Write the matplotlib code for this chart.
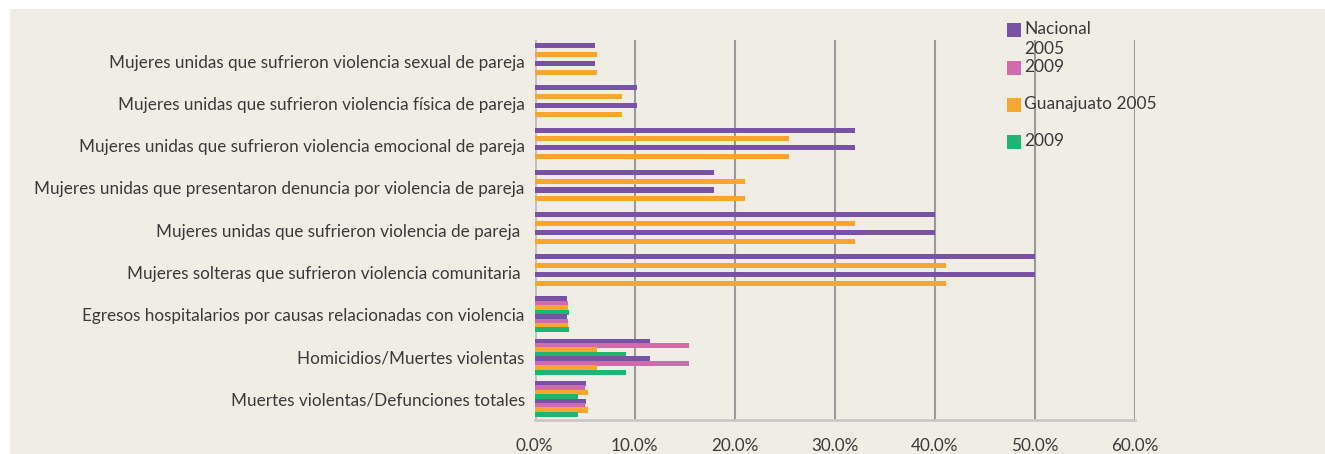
import numpy as np
import matplotlib
matplotlib.use('Agg')
import matplotlib.pyplot as plt
from matplotlib.patches import Rectangle

plt.rcParams['font.family'] = ['Lato', 'DejaVu Sans']

categorias = [
    'Mujeres unidas que sufrieron violencia sexual de pareja',
    'Mujeres unidas que sufrieron violencia física de pareja',
    'Mujeres unidas que sufrieron violencia emocional de pareja',
    'Mujeres unidas que presentaron denuncia por violencia de pareja',
    'Mujeres unidas que sufrieron violencia de pareja ',
    'Mujeres solteras que sufrieron violencia comunitaria ',
    'Egresos hospitalarios por causas relacionadas con violencia',
    'Homicidios/Muertes violentas',
    'Muertes violentas/Defunciones totales',
]

# porcentajes (0 = sin dato)
nacional_2005 = [6.0, 10.2, 32.0, 17.9, 40.0, 50.0, 3.2, 11.5, 5.1]
nacional_2009 = [0, 0, 0, 0, 0, 0, 3.3, 15.4, 5.0]
guanajuato_2005 = [6.2, 8.7, 25.4, 21.0, 32.0, 41.1, 3.3, 6.2, 5.3]
guanajuato_2009 = [0, 0, 0, 0, 0, 0, 3.4, 9.1, 4.3]

ticks = [0, 10, 20, 30, 40, 50, 60]

series = [nacional_2005, nacional_2009, guanajuato_2005, guanajuato_2009]
colores = ['#7852A4', '#D06CAB', '#FAA52E', '#1EB473']
etiquetas = ['Nacional\n2005', '2009', 'Guanajuato 2005', '2009']

fondo = '#F0EDE5'
texto = '#3A3A3A'

fig = plt.figure(figsize=(13.25, 4.54), dpi=100, facecolor='white')
fig.patches.append(Rectangle((10 / 1325, 0), 1, 1 - 9 / 454, transform=fig.transFigure,
                             facecolor=fondo, edgecolor='none', zorder=-10))
ax = fig.add_axes([534.5 / 1325, 34 / 454, 600 / 1325, 380 / 454])
ax.set_facecolor('none')

y = np.arange(len(categorias))
paso = 0.105
alto = 0.12
# cada serie se dibuja dos veces dentro del grupo
for rep in range(2):
    for k, (vals, col) in enumerate(zip(series, colores)):
        slot = rep * 4 + k
        off = (slot - 3.5) * paso
        ax.barh(y + off, np.array(vals) / 100.0, height=alto, color=col, zorder=3)

ax.set_ylim(len(categorias) - 0.5, -0.5)
ax.set_xlim(0, 0.6)
ax.set_yticks(y)
ax.set_yticklabels(categorias, fontsize=12.3, color=texto)
ax.set_xticks([t / 100.0 for t in ticks])
ax.set_xticklabels(['%.1f%%' % t for t in ticks], fontsize=12.3, color=texto)
ax.tick_params(axis='both', length=0)
ax.tick_params(axis='y', pad=7)
ax.tick_params(axis='x', pad=13)

for t in ticks[1:]:
    ax.axvline(t / 100.0, color='#9A9A9A', lw=1.5, zorder=1)
ax.axvline(0, color='#C2C2C2', lw=2.2, zorder=2)

for s in ['top', 'right', 'left']:
    ax.spines[s].set_visible(False)
ax.spines['bottom'].set_color('#C8C8C8')
ax.spines['bottom'].set_linewidth(2)

# leyenda
leg_y = [23, 61, 98, 135]
for yy, col, lab in zip(leg_y, colores, etiquetas):
    fig.patches.append(Rectangle((1007 / 1325, 1 - (yy + 14) / 454), 14 / 1325, 14 / 454,
                                 transform=fig.transFigure, facecolor=col, edgecolor='none'))
    fig.text(1024 / 1325, 1 - (yy - 2) / 454, lab, fontsize=12.5, color=texto,
             ha='left', va='top', linespacing=1.3)

fig.savefig('out.png', dpi=100, facecolor='white')
